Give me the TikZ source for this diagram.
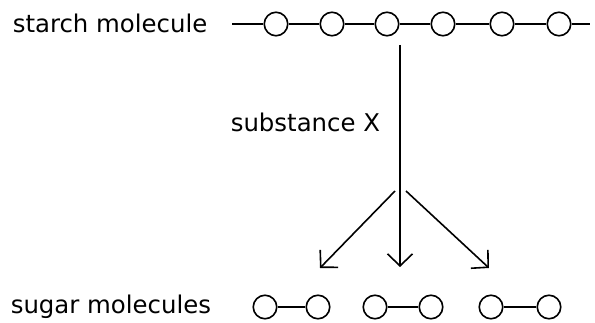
\documentclass[tikz,border=0pt]{standalone}
\usepackage{fontspec}
\setmainfont{DejaVu Sans}
\usetikzlibrary{arrows.meta}
\begin{document}
\begin{tikzpicture}[x=1pt,y=-1pt, line width=1.6pt,
  mol/.style={circle, draw, minimum size=23.5pt, inner sep=0pt},
  lbl/.style={font=\fontsize{24.4}{28}\selectfont, inner sep=0pt},
  arr/.style={-{Straight Barb[length=12pt,width=25pt]}}]
\useasboundingbox (0,0) rectangle (595,323);
% starch molecule
\node[lbl, anchor=base west] (starch) at (12,33) {starch molecule};
\foreach \i/\x in {1/276,2/332,3/387,4/443,5/502,6/559}
  \node[mol] (s\i) at (\x,24) {};
\coordinate (sl) at (232,24);
\coordinate (sr) at (590,24);
\draw (sl) -- (s1) -- (s2) -- (s3) -- (s4) -- (s5) -- (s6) -- (sr);
% substance X
\node[lbl, anchor=base west] (subst) at (230,132) {substance X};
\coordinate (vtop) at (400,45);
\coordinate (vtip) at (400,267);
\draw[arr] (vtop) -- (vtip);
\coordinate (lstart) at (395,191);
\coordinate (ltip) at (320,268);
\coordinate (rstart) at (406,191);
\coordinate (rtip) at (489,268);
\draw[arr] (lstart) -- (ltip);
\draw[arr] (rstart) -- (rtip);
% sugar molecules
\node[lbl, anchor=base west] (sugar) at (10,314) {sugar molecules};
\foreach \n/\x in {p1a/265,p1b/318,p2a/375,p2b/431,p3a/491,p3b/549}
  \node[mol] (\n) at (\x,307) {};
\draw (p1a) -- (p1b);
\draw (p2a) -- (p2b);
\draw (p3a) -- (p3b);
\end{tikzpicture}
\end{document}
